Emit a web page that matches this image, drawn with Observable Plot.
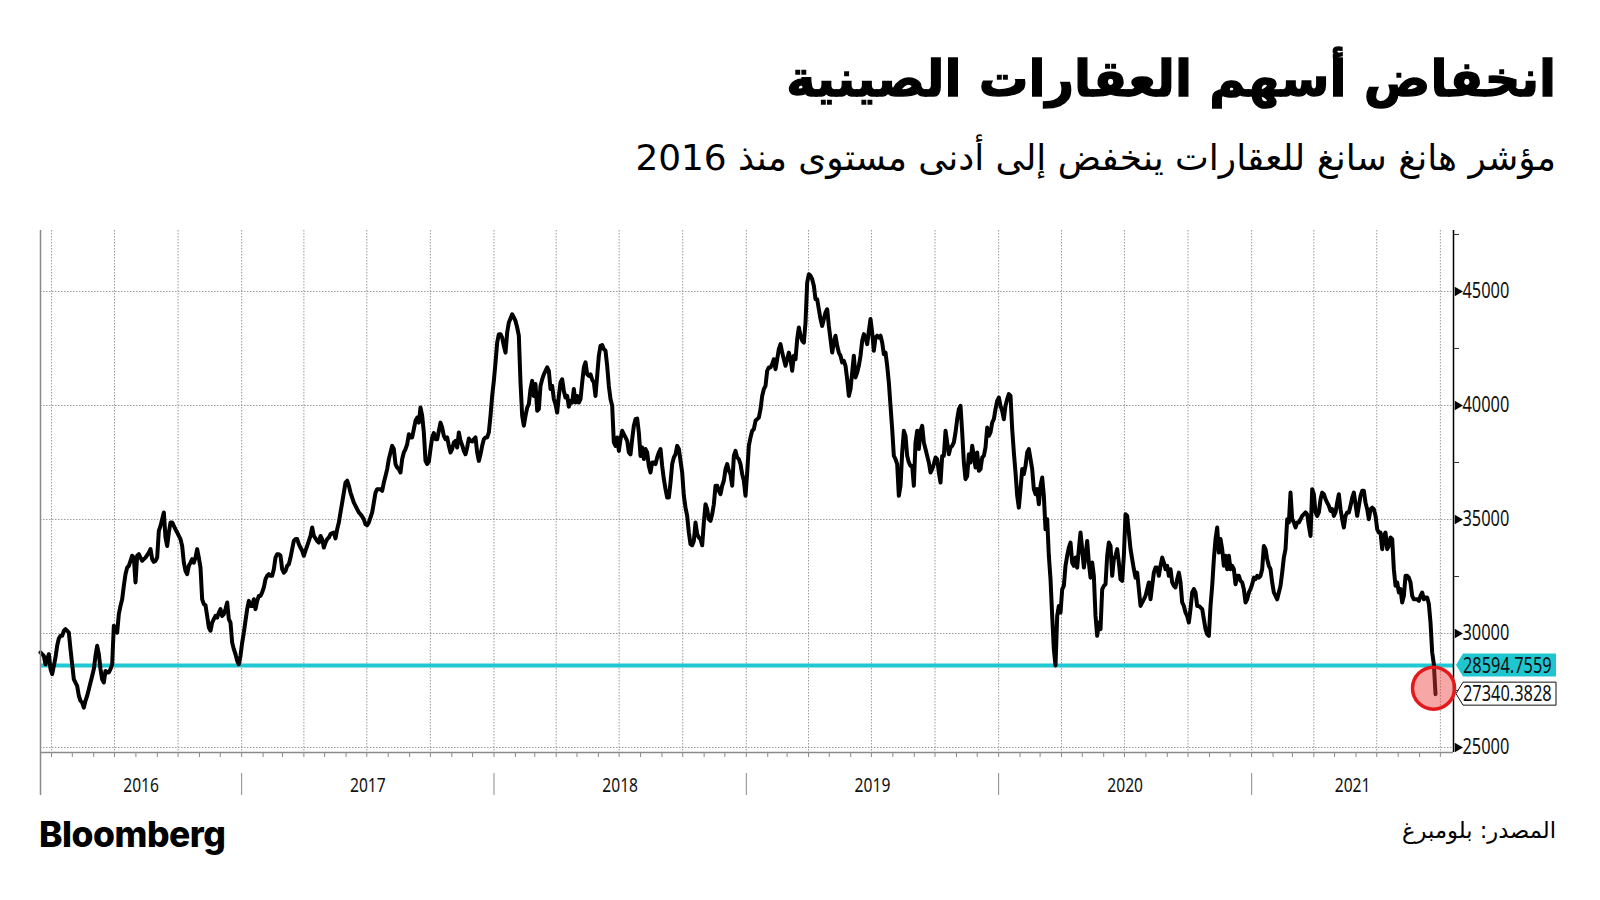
<!DOCTYPE html>
<html><head><meta charset="utf-8">
<script src="https://cdn.jsdelivr.net/npm/d3@7"></script>
<script src="https://cdn.jsdelivr.net/npm/@observablehq/plot@0.6"></script>
<style>
html,body{margin:0;padding:0;background:#fff;}
#page{position:relative;width:1600px;height:900px;overflow:hidden;background:#fff;}
.t{position:absolute;white-space:nowrap;line-height:1;color:#000;}
#title{right:44px;font-family:"DejaVu Sans",sans-serif;font-weight:bold;direction:rtl;-webkit-text-stroke:1.3px #000;}
#subtitle{right:44px;font-family:"DejaVu Sans",sans-serif;direction:rtl;}
#source{right:44px;font-family:"DejaVu Sans",sans-serif;direction:rtl;}
#logo{left:39px;font-family:Inter,"Liberation Sans",sans-serif;font-weight:800;letter-spacing:-0.5px;}
#chart{position:absolute;left:0;top:200px;}
</style></head>
<body><div id="page">
<div id="title" class="t">انخفاض أسهم العقارات الصينية</div>
<div id="subtitle" class="t">مؤشر هانغ سانغ للعقارات ينخفض إلى أدنى مستوى منذ 2016</div>
<div id="chart"></div>
<div id="logo" class="t">Bloomberg</div>
<div id="source" class="t">المصدر: بلومبرغ</div>
</div>
<script>
// Hang Seng Properties index, readings evenly spaced between the first and last date
const firstDate = "2016-03-16";
const lastDate = "2021-09-24";
const part1 = [29170,29090,29020,28650,28870,29090,28440,28220,28580,28950,29460,29780,29900,29900,30120,30190,30120,30040,29310,28650,27990,27850,27700,27270,27050,26970,26750,27050,27270,27560,27850,28140,28440,29020,29460,29090,28440,27990,27850,28360,28290,28290,28440,28650,30340,30190,30040,30850,31210,31500,32090,32600,32890,32970,33190,33410,33330,32240,33410,33480,33330,33190,33260,33330,33440,33550,33700,33260,33140,33190,33330,34500,34720,35010,35310,34210,33840,34430,34870,34870,34720,34570,34430,34280,34140,33840,33110,32750,32600,32970,33110,33260,33110,33330,33700,33330,32890,31500,31290,31240,30770,30260,30120,30480,30630,30770,30700,30920,31070,30770,30850,31070,31360,30630,30480,29600,29310,29090,28800,28650,29020,29600,30040,30560,31070,31430,31210,31210,31500,31070,31430,31650,31650,31800,32020,32380,32530,32600,32530,32530,32820,33330,33480,33480,33410,32820,32670,32750,32970,33040,33330,33700,34060,34140,34140,33920,33770,33630,33410,33630,33840,34060,34280,34650,34280,34170,34060,33990];
const part2 = [34280,34140,33770,33990,34140,34210,34360,34400,34430,34170,34570,34870,35310,35740,36180,36620,36700,36480,36180,35960,35740,35600,35450,35310,35230,35130,35010,34790,34750,34870,35090,35310,35740,36180,36330,36330,36330,36260,36620,36910,37210,37650,37940,38230,38090,37430,37280,37210,37060,37650,37940,38090,38300,38740,38600,38600,38960,39330,39470,39250,39910,39550,38820,37570,37430,37530,38090,38600,38790,38520,38520,38890,39250,39030,38670,38520,38600,38230,37940,38090,38380,38450,38160,38820,38450,38260,38010,37860,38160,38550,38450,38420,38520,38600,37940,37570,37860,38230,38520,38600,38600,38820,39550,40420,41080,41880,42760,43130,43130,42980,42620,42320,43200,43640,43820,44000,43860,43710,43420,43060,41010,39550,39110,39550,39910,40060,40720,41080,40420,40940,39770,39840,40860,41150,41370,41520,41670,41520,40720,40860,40280,40060,39690,40420,41010,41150,40640,40350,40420,39950,40200,40130,40720,40130,40420,40130,40280,41010,41670,41890,41370,41300,41370,41130,41010,40420,41300,42180,42620,42650,42470];
const part3 = [42400,41740,40860,40280,39990,38380,38230,38600,38010,38520,38890,38740,38600,38450,37940,37860,38520,39110,39400,39430,38820,37790,38160,37650,38090,37940,37350,37060,37500,37500,37430,37720,37940,38090,37350,36770,36330,35960,35960,36620,37430,37720,37860,38230,38090,37570,37060,36040,35520,35160,34430,33920,33870,34060,34870,34360,34210,34140,33870,34870,35670,35450,35010,34940,35230,35670,36480,36480,36260,36110,36480,36700,37210,37430,37140,36990,36480,37790,38010,37720,37650,37430,36990,36700,36040,37060,38230,38600,38890,38960,39330,39400,39470,39840,40420,40720,40860,41520,41670,41670,41810,42030,41590,42030,42470,42690,42320,42030,41740,42030,42320,42030,41520,42180,42030,42910,43420,43060,42840,42760,43640,45390,45760,45690,45540,45250,44660,44660,44220,43790,43490,43790,44080,44220,43490,42910,42320,42760,43060,42620,42320,42180,41890,41960,41740,41150,40420,40720,41450,42180,41230,41450,41740,42180,42840,43130,42980,42690,43270,43790,43200,42400,42980,43060,42980,43060,42760,42250,42320,41740,41010];
const part4 = [39985,38960,37790,37650,37430,36040,36480,37940,38890,38670,37790,37500,37350,37350,36480,38380,38890,38090,38890,39110,38380,38090,37790,37500,37060,37210,37430,37720,37650,37060,36620,37790,37790,38890,38380,37860,38160,38230,38380,38820,39400,39840,39985,38820,37500,36770,36910,37860,37500,38230,37790,37280,37940,37140,37210,37720,37790,38160,39030,38670,38820,39250,39400,39840,40200,40350,39985,39770,39400,39985,40280,40500,40420,38960,37940,37060,36040,35520,36330,37210,36990,37350,37940,38090,37650,37210,36330,36110,36330,35670,36480,36840,36040,34570,35010,33410,32380,30770,29310,28600,30770,31210,30920,31940,32090,32970,33410,33770,33990,33110,32970,33330,32890,33700,34430,33700,32890,33410,34060,33110,32450,33110,32530,30770,29900,30480,30190,31940,32090,32160,33410,33990,33840,32530,33260,33410,33700,33110,32380,32310,33410,35230,35160,34430,33700,33260,32820,32450,32670,31945,31210,31360,31500,31650,31945,32240,31500,32090,32670,32890,32890,32530,32970,33330,33110,32820,32970,32530,32820,32240,32090];
const part5 = [32020,32380,32670,32240,31360,31210,30920,30770,30480,31070,31800,31945,31800,31210,31210,31140,31070,30630,30190,29970,29900,31210,32090,33260,34140,34650,33550,34140,33700,32970,33410,32820,33410,32820,32970,32820,32160,32530,32530,32310,32240,31945,31360,31500,31800,31945,32160,32450,32380,32530,32450,32530,32820,33840,33700,33260,32970,32820,32240,31800,31650,31500,31800,32090,32670,33330,33700,35010,34870,36180,35010,34870,34650,34870,34870,35010,35160,35230,35310,35230,34720,34280,36330,36110,35310,35160,35310,35890,36180,36110,35890,35740,35600,35380,35450,35160,35310,35740,36110,35450,35010,34650,35160,35310,35310,35600,35960,36180,35670,35160,35600,36040,36260,36260,35740,35450,35010,35450,35520,35450,35160,34570,34430,34430,33700,34280,34430,33700,33840,34210,34140,32820,32090,32240,31800,31945,31360,31650,32530,32530,32450,32240,31650,31500,31500,31500,31430,31650,31800,31500,31580,31580,31290,30480,29170,28650,27340.3828];

const priorLow = 28594.7559;
const lastValue = 27340.3828;
const yearLabels = ["2016","2017","2018","2019","2020","2021"];
const yMajor = [25000,30000,35000,40000,45000];
const yMinor = [27500,32500,37500,42500,47500];
const axisStart = "2016-03-16";
const axisEnd = "2021-10-20";

const values = [...part1, ...part2, ...part3, ...part4, ...part5];
const t0 = new Date(firstDate), t1 = new Date(lastDate);
const stepMs = (t1 - t0) / (values.length - 1);
const data = values.map((v, i) => ({date: new Date(+t0 + i * stepMs), value: v}));

const xStart = new Date(axisStart), xEnd = new Date(axisEnd);
const yearStarts = yearLabels.slice(1).map(y => new Date(`${y}-01-01`));
const mids = yearLabels.map(y => {
  const a = Math.max(+new Date(`${y}-01-01`), +xStart);
  const b = Math.min(+new Date(`${+y + 1}-01-01`), +xEnd);
  return new Date((a + b) / 2);
});
const quarters = d3.utcMonth.every(3).range(xStart, xEnd);
const months = d3.utcMonth.range(xStart, xEnd);
const yDomain = [24781, 47675];
const FONT = "'Noto Sans','Open Sans','DejaVu Sans Condensed',sans-serif";
const grid = "#9a9a9a";

const chart = Plot.plot({
  width: 1600, height: 600,
  marginLeft: 40, marginRight: 147, marginTop: 30, marginBottom: 48,
  x: {type: "utc", domain: [xStart, xEnd], axis: null},
  y: {domain: yDomain, axis: null},
  style: {fontFamily: FONT, fontSize: "21px", background: "white", overflow: "visible", color: "#111"},
  marks: [
    Plot.ruleY(yMajor, {stroke: grid, strokeDasharray: "1.5,1.5"}),
    Plot.ruleX(quarters, {stroke: grid, strokeDasharray: "1.5,1.5"}),
    Plot.ruleY([priorLow], {stroke: "#1fc8d2", strokeWidth: 4}),
    Plot.line(data, {x: "date", y: "value", stroke: "#000", strokeWidth: 4, strokeLinejoin: "round"}),
    Plot.ruleX([xStart], {stroke: "#8a8a8a", strokeWidth: 1.5}),
    Plot.ruleY([yDomain[0]], {stroke: "#8a8a8a", strokeWidth: 1.5}),
    Plot.axisX({anchor: "bottom", ticks: months, tickSize: 5, tickFormat: () => "", label: null, stroke: "#8a8a8a"}),
    Plot.axisX({anchor: "bottom", ticks: yearStarts, tickSize: 22, dy: 21, tickFormat: () => "", label: null, stroke: "#8a8a8a"}),
    Plot.axisX({anchor: "bottom", ticks: [xStart], tickSize: 43, tickFormat: () => "", label: null, stroke: "#8a8a8a", strokeWidth: 1.5}),
    Plot.text(yearLabels, {x: (d, i) => mids[i], frameAnchor: "bottom", dy: 39, text: d => d, fontSize: 20, fill: "#111"}),
    Plot.ruleX([xEnd], {stroke: "#000", strokeWidth: 1.5}),
    Plot.axisY({anchor: "right", ticks: yMinor, tickSize: 5, tickFormat: () => "", label: null, stroke: "#333"}),
    Plot.dot(yMajor, {x: () => xEnd, y: d => d, symbol: "triangle", rotate: 90, r: 3.5, fill: "#000", dx: 4}),
    Plot.text(yMajor, {x: () => xEnd, y: d => d, dx: 9, textAnchor: "start", text: d => String(d), fontSize: 21, fill: "#111"}),
    Plot.dot([data[data.length - 1]], {x: "date", y: "value", r: 21, dx: -2, dy: -6, fill: "rgb(240,60,60)", fillOpacity: 0.45, stroke: "#e3191c", strokeWidth: 3.5})
  ]
});
document.getElementById("chart").appendChild(chart);

// value tags at the right axis
const ys = chart.scale("y"), xs = chart.scale("x");
const xr = xs.apply(xEnd);
const tags = d3.select(chart).append("g").attr("font-family", FONT).attr("font-size", 21).attr("text-anchor", "start");
function tag(v, label, fill) {
  const y = ys.apply(v), h = 11.5;
  tags.append("polygon")
    .attr("points", [[xr + 3, y], [xr + 10, y - h], [xr + 103, y - h], [xr + 103, y + h], [xr + 10, y + h]].map(p => p.join(",")).join(" "))
    .attr("fill", fill).attr("stroke", fill === "white" ? "#111" : "none").attr("stroke-width", 1);
  tags.append("text").attr("x", xr + 10).attr("y", y).attr("dy", "0.36em").attr("fill", "#111").text(label);
}
tag(priorLow, "28594.7559", "#20c6cf");
tag(lastValue, "27340.3828", "white");

// condense the chart's numerals horizontally, like the narrow face of the original
d3.select(chart).selectAll("text").each(function () {
  if (!this.textContent) return;
  const w = this.getComputedTextLength();
  if (w > 0) { this.setAttribute("textLength", (w * 0.78).toFixed(1)); this.setAttribute("lengthAdjust", "spacingAndGlyphs"); }
});

function place(id, width, centerY) {
  const el = document.getElementById(id);
  el.style.fontSize = "40px";
  const w = el.getBoundingClientRect().width;
  el.style.fontSize = (40 * width / w) + "px";
  const h = el.getBoundingClientRect().height;
  el.style.top = (centerY - h / 2) + "px";
}
place("title", 770, 80);
place("subtitle", 921, 158);
place("logo", 187, 835);
place("source", 154, 830);
</script>
</body></html>
